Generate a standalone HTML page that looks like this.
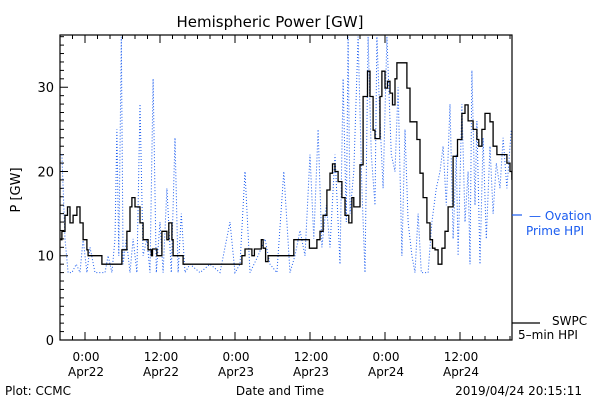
<!DOCTYPE html>
<html><head><meta charset="utf-8"><style>
body{margin:0;background:#fff;}
svg{display:block;font-family:"DejaVu Sans","Liberation Sans",sans-serif;}
</style></head><body>
<svg id="c" width="600" height="400" xmlns="http://www.w3.org/2000/svg">
<rect width="600" height="400" fill="#fff"/>
<text x="270" y="27" font-size="15" text-anchor="middle">Hemispheric Power [GW]</text>
<text transform="translate(20,190) rotate(-90)" font-size="13" text-anchor="middle">P [GW]</text>
<text x="280" y="395" font-size="12" text-anchor="middle">Date and Time</text>
<text x="5" y="395" font-size="12">Plot: CCMC</text>
<text x="582" y="395" font-size="12" text-anchor="end">2019/04/24 20:15:11</text>
<g id="axes"></g>
<g id="series"></g>
<rect x="60" y="35" width="452" height="305" fill="none" stroke="#000" stroke-width="1.2"/>
<line x1="512" y1="215" x2="522" y2="215" stroke="#1a5cf0" stroke-width="1.2"/>
<text x="529" y="220" font-size="12" fill="#1a5cf0">— Ovation</text>
<text x="526" y="235" font-size="12" fill="#1a5cf0">Prime HPI</text>
<line x1="512" y1="323" x2="540" y2="323" stroke="#000" stroke-width="1.2"/>
<text x="552" y="325" font-size="12">SWPC</text>
<text x="518" y="339" font-size="12">5–min HPI</text>
</svg>
<script>
const yTicks=[0,10,20,30];
const xTickHours=[0,12,24,36,48,60];
const xTickTimes=["0:00","12:00","0:00","12:00","0:00","12:00"];
const xTickDates=["Apr22","Apr22","Apr23","Apr23","Apr24","Apr24"];
const swpcHours=[-3.9,-3.7,-3.2,-2.8,-2.4,-1.9,-1.3,-0.8,-0.3,0.3,0.5,2.4,2.7,5.1,5.9,6.7,7.2,7.5,8,8.8,9.3,10.1,10.6,10.8,11.2,11.5,11.8,12.3,12.8,13.1,13.4,13.9,14.1,15.5,15.7,24.8,25.1,25.6,26.4,26.7,27.1,27.7,28.2,28.5,28.9,29.3,33.1,33.4,35.7,35.9,36.8,37.1,37.6,38.1,38.7,39.2,39.6,40,40.5,41.1,41.6,42.2,42.7,43,43.6,44,44.5,45.2,45.6,46.1,46.4,46.9,47.2,47.5,48,48.4,48.8,49.2,49.6,49.9,51,51.5,52,52.6,53.1,53.6,54.1,54.7,55.2,55.6,56,56.5,57.1,57.6,58.1,58.9,59.6,60.3,60.8,61.3,62.1,62.7,63,63.5,64,64.8,65.3,65.9,67,67.5,68,68.3];
const swpcValues=[11.9,12.9,14.8,15.8,13.9,14.8,15.8,13.9,11.9,10.7,10,10,9,9,10.7,12.9,15.8,16.9,15.8,13.9,11.9,10.7,10,10.8,10.8,10,10,12.9,12.9,11.9,13.9,11.9,10,10,9,9,10,10.8,10.8,10,10.8,10.8,11.9,10.9,9.3,10,10,11.9,11.9,10.9,10.9,11.9,12.9,14.8,17.8,19.8,20.9,20,18.8,16.9,14.8,13.9,16.9,15.8,15.8,20.8,28.9,31.9,28.9,24.9,23.9,23.9,28.9,31.9,29.9,30.7,29.3,27.9,31,32.9,32.9,29.9,25.9,25.9,23.8,19.8,16.9,13.9,11.9,10.9,10.7,9,10.9,12.9,15.8,21.8,23.8,26.9,27.9,26,25,23.8,23,25,26.9,25.9,23,22,22,21,20,19];
const ovationHours=[-3.7,-3.2,-2.7,-2.1,-1.4,-0.8,-0.3,0.3,0.8,1.6,2.4,3.2,3.7,4.3,4.8,5.1,5.4,5.8,6.1,6.6,7.2,7.7,8.3,8.8,9.3,9.9,10.4,10.9,11.4,12,12.5,13.1,13.8,14.4,14.9,15.4,16,16.8,18.4,20,21.6,23.2,24,24.8,25.6,26.4,27.7,28.8,29.6,30.7,31.8,32.8,33.6,34.4,35.2,36,36.6,37.3,37.9,38.6,39.2,40,40.8,41.3,41.8,42.1,42.4,43,43.7,44.3,44.8,45.3,45.8,46.4,46.7,47.2,47.7,48.3,49,49.6,50.1,50.7,51.2,51.7,52.3,52.8,53.3,53.8,54.4,54.9,55.5,56.2,56.8,57.3,57.8,58.4,58.9,59.4,59.7,60.3,60.8,61.3,61.6,61.9,62.4,62.7,63.2,63.7,64.2,64.8,65.3,65.8,66.4,66.9,67.5,68.2];
const ovationValues=[22,12,8,8,9,8,12,8,11,8,8,8,10,8,12,25,10,36,9,12,8,12,8,28,10,12,8,31,8,14,8,18,8,24,8,15,8,9,8,9,8,14,8,9,20,8,10,12,9,8,20,8,10,13,10,22,12,25,11,16,11,22,9,31,14,36,15,20,36,18,8,36,22,16,36,26,18,36,22,20,30,10,25,14,10,8,15,8,8,8,14,18,20,23,16,28,12,22,10,28,14,20,9,32,16,26,9,24,12,23,15,21,18,24,18,25];
const NS="http://www.w3.org/2000/svg";
const L=60,R=512,T=35,B=340;
const xMin=-4,xMax=68.32,yMin=0,yMax=36.2;
function xs(h){return L+(h-xMin)/(xMax-xMin)*(R-L);}
function ys(v){return B-(v-yMin)/(yMax-yMin)*(B-T);}
function mk(tag,attrs,parent){const e=document.createElementNS(NS,tag);for(const k in attrs)e.setAttribute(k,attrs[k]);parent.appendChild(e);return e;}
const ax=document.getElementById('axes'),se=document.getElementById('series');
for(let v=0;v<=36;v++){const y=ys(v);const len=(v%10===0)?8:4;
const t=mk('line',{x1:L,y1:y,x2:L+len,y2:y,stroke:'#000'},ax);

}
yTicks.forEach(v=>{const t=mk('text',{x:L-6,y:ys(v)+5,'font-size':13,'text-anchor':'end'},ax);t.textContent=v;

});
for(let h=-4;h<=68;h+=2){const x=xs(h);const len=(h%12===0)?8:4;
const t=mk('line',{x1:x,y1:B,x2:x,y2:B-len,stroke:'#000'},ax);


const t2=mk('line',{x1:x,y1:T,x2:x,y2:T+len,stroke:'#000'},ax);

}
xTickHours.forEach((h,i)=>{const a=mk('text',{x:xs(h)+1,y:361,'font-size':12,'text-anchor':'middle'},ax);a.textContent=xTickTimes[i];


const b=mk('text',{x:xs(h)+1,y:376,'font-size':12,'text-anchor':'middle'},ax);b.textContent=xTickDates[i];

});
mk('clipPath',{id:'cp'},se).appendChild((()=>{const r=document.createElementNS(NS,'rect');r.setAttribute('x',L);r.setAttribute('y',T);r.setAttribute('width',R-L);r.setAttribute('height',B-T);return r;})());
const op=ovationHours.map((h,i)=>xs(h).toFixed(1)+','+ys(Math.min(ovationValues[i],yMax)).toFixed(1)).join(' ');
const o=mk('polyline',{points:op,fill:'none',stroke:'#1a5cf0','stroke-width':1,'stroke-dasharray':'1 2','clip-path':'url(#cp)'},se);


let pts=[];
swpcHours.forEach((h,i)=>{const x=xs(h).toFixed(1),y=ys(swpcValues[i]).toFixed(1);
if(i>0){pts.push(x+','+ys(swpcValues[i-1]).toFixed(1));}
pts.push(x+','+y);});
const s=mk('polyline',{points:pts.join(' '),fill:'none',stroke:'#000','stroke-width':1.3,'clip-path':'url(#cp)'},se);


</script>
</body></html>
